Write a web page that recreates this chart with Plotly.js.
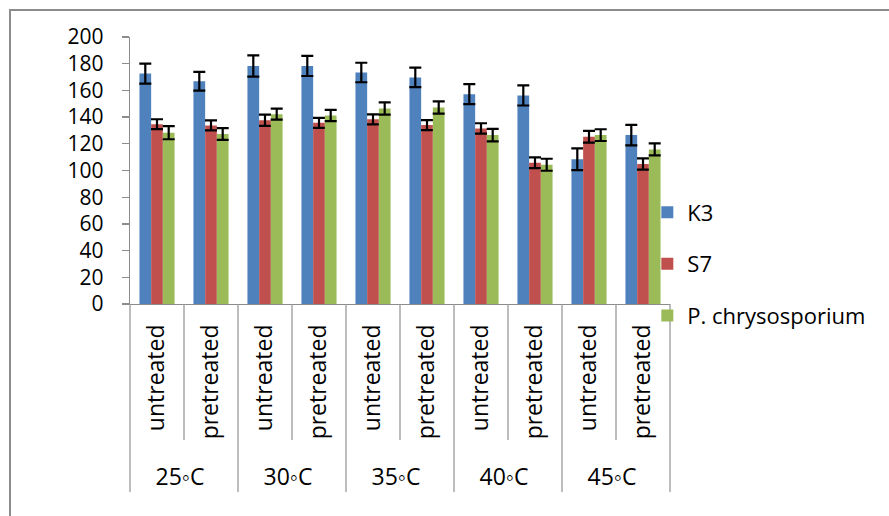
<!DOCTYPE html>
<html>
<head>
<meta charset="utf-8">
<script src="https://cdn.plot.ly/plotly-3.0.1.min.js"></script>
<style>
  html, body { margin: 0; padding: 0; background: #fff; overflow: hidden; }
  #frame { position: absolute; left: 9px; top: 9px; width: 1000px; height: 600px;
           border-top: 2px solid #8c8c8c; border-left: 2px solid #8c8c8c; }
  #chart { position: absolute; left: 0; top: 0; width: 889px; height: 516px; }
</style>
</head>
<body>
<div id="frame"></div>
<div id="chart"></div>
<script>
// Data
const temperatures = ["25\u25E6C","25\u25E6C","30\u25E6C","30\u25E6C","35\u25E6C","35\u25E6C","40\u25E6C","40\u25E6C","45\u25E6C","45\u25E6C"];
const treatments   = ["untreated","pretreated","untreated","pretreated","untreated","pretreated","untreated","pretreated","untreated","pretreated"];
const seriesNames  = ["K3", "S7", "P. chrysosporium"];
const valuesK3 = [172.6, 166.9, 178.3, 178.3, 173.4, 169.7, 157.2, 156.2, 108.4, 126.5];
const valuesS7 = [134.7, 133.8, 137.7, 135.7, 138.3, 134.0, 131.5, 105.8, 125.3, 104.9];
const valuesPc = [128.3, 127.3, 142.2, 141.2, 146.5, 147.2, 126.5, 104.3, 126.5, 115.8];
const errK3 = [7.5, 7.0, 8.0, 7.5, 7.3, 7.3, 7.5, 7.5, 8.1, 7.7];
const errS7 = [3.7, 3.7, 4.2, 3.7, 3.7, 3.7, 3.9, 4.0, 4.4, 4.2];
const errPc = [4.9, 4.4, 4.1, 4.2, 4.6, 4.6, 4.7, 4.5, 4.4, 4.5];
const yTicks = [0, 20, 40, 60, 80, 100, 120, 140, 160, 180, 200];

const colors = ["#4F81BD", "#C0504D", "#9BBB59"];
const allValues = [valuesK3, valuesS7, valuesPc];
const allErrs = [errK3, errS7, errPc];

const FONT = "Open Sans, Liberation Sans, sans-serif";

// leading no-break spaces only pad the rotated labels so the outer level sits lower
const innerLabels = treatments.map(t => "\u00A0\u00A0" + t);

const traces = seriesNames.map((name, i) => ({
  type: "bar",
  name: name,
  legendgroup: "g" + i,
  x: [temperatures, innerLabels],
  y: allValues[i],
  marker: { color: colors[i], line: { width: 0 } },
  error_y: { type: "data", array: allErrs[i], visible: true, color: "#000", thickness: 2.2, width: 6 },
  hoverinfo: "y+name"
}));

// Category divider lines below the axis (short between treatments, long between temperatures)
const nCat = treatments.length;
const plotH = 516 - 37 - 212;
const shapes = [];
for (let k = 0; k <= nCat; k++) {
  const outer = (k === 0 || k === nCat || temperatures[k] !== temperatures[k - 1]);
  const len = outer ? 188 : 136;
  shapes.push({
    type: "line", xref: "paper", yref: "paper",
    x0: k / nCat, x1: k / nCat, y0: 0, y1: -len / plotH,
    line: { color: "#9a9a9a", width: 1.3 }
  });
}

const layout = {
  width: 889, height: 516,
  margin: { l: 130, r: 219, t: 37, b: 212 },
  paper_bgcolor: "rgba(0,0,0,0)",
  plot_bgcolor: "rgba(0,0,0,0)",
  font: { family: FONT, size: 22, color: "#000" },
  barmode: "group",
  bargap: 0.35,
  bargroupgap: 0,
  showlegend: true,
  legend: {
    x: 0.958, xanchor: "left", y: 0.15, yanchor: "middle",
    traceorder: "grouped", tracegroupgap: 20,
    font: { family: FONT, size: 22, color: "#000" },
    bgcolor: "rgba(0,0,0,0)"
  },
  xaxis: {
    type: "multicategory",
    showline: true, linecolor: "#8c8c8c", linewidth: 1.3,
    showdividers: false,
    ticks: "",
    tickangle: -90,
    ticklabelstandoff: 10,
    tickfont: { family: FONT, size: 23, color: "#000" },
    showgrid: false, zeroline: false
  },
  yaxis: {
    range: [0, 200],
    tickvals: yTicks,
    ticktext: yTicks.map(String),
    showline: true, linecolor: "#8c8c8c", linewidth: 1.3,
    ticks: "outside", ticklen: 7, tickcolor: "#8c8c8c", tickwidth: 1.3,
    ticklabelstandoff: 14,
    tickfont: { family: FONT, size: 21, color: "#000" },
    showgrid: false, zeroline: false
  },
  shapes: shapes
};

Plotly.newPlot("chart", traces, layout, { displayModeBar: false, staticPlot: true });
</script>
</body>
</html>
